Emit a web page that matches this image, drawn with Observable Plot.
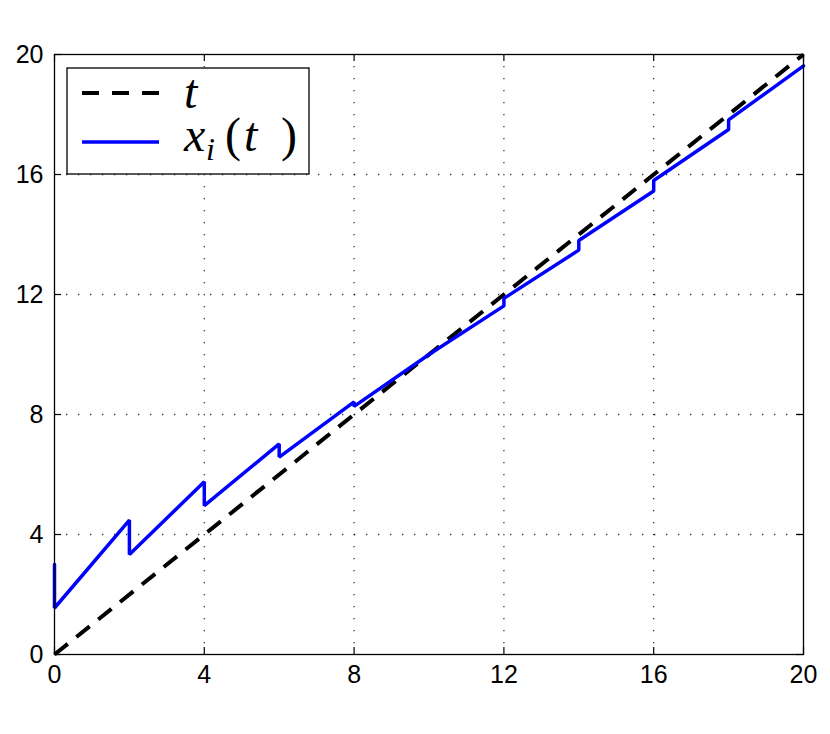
<!DOCTYPE html>
<html>
<head>
<meta charset="utf-8">
<script src="https://cdn.jsdelivr.net/npm/d3@7"></script>
<script src="https://cdn.jsdelivr.net/npm/@observablehq/plot@0.6"></script>
<style>
  html, body { margin: 0; padding: 0; background: white; }
  #wrap { position: relative; width: 830px; height: 734px; }
  #legend { position: absolute; left: 0; top: 0; pointer-events: none; }
</style>
</head>
<body>
<div id="wrap"></div>
<script>
// Reference line t
const refT = [0, 20];
// x_i(t) trajectory (times and values, jumps as repeated times)
const blueT = [0, 0, 2, 2, 4, 4, 6, 6, 8, 8, 10, 12, 12, 14, 14, 16, 16, 18, 18, 20];
const blueX = [3.0, 1.55, 4.48, 3.33, 5.76, 4.96, 7.02, 6.58, 8.42, 8.27, 10.0, 11.62, 11.87, 13.48, 13.8, 15.45, 15.8, 17.5, 17.82, 19.62];
// axis ticks
const tickVals = [0, 4, 8, 12, 16, 20];
const gridVals = [4, 8, 12, 16];
const legendLabels = ["t", "x_i(t)"];

const refData = refT.map(t => ({t, v: t}));
const blueData = blueT.map((t, i) => ({t, v: blueX[i]}));

const chart = Plot.plot({
  width: 830,
  height: 734,
  marginLeft: 54,
  marginRight: 27,
  marginTop: 54,
  marginBottom: 80,
  x: {domain: [0, 20], label: null},
  y: {domain: [0, 20], label: null},
  style: {fontFamily: "'Liberation Sans', Arial, sans-serif", fontSize: "25px", color: "black", background: "white"},
  marks: [
    Plot.gridX(gridVals, {stroke: "#000", strokeOpacity: 0.8, strokeWidth: 1.3, strokeDasharray: "1.3,10.7"}),
    Plot.gridY(gridVals, {stroke: "#000", strokeOpacity: 0.8, strokeWidth: 1.3, strokeDasharray: "1.3,10.7"}),
    Plot.line(refData, {x: "t", y: "v", stroke: "black", strokeWidth: 4, strokeDasharray: "17,11", strokeLinecap: "butt"}),
    Plot.line(blueData, {x: "t", y: "v", stroke: "#0000ff", strokeWidth: 3.5, strokeLinejoin: "miter"}),
    Plot.tickX(tickVals, {x: d => d, stroke: "black", strokeWidth: 1.2, insetTop: 593}),
    Plot.tickX(tickVals, {x: d => d, stroke: "black", strokeWidth: 1.2, insetBottom: 593}),
    Plot.tickY(tickVals, {y: d => d, stroke: "black", strokeWidth: 1.2, insetRight: 742}),
    Plot.tickY(tickVals, {y: d => d, stroke: "black", strokeWidth: 1.2, insetLeft: 742}),
    Plot.frame({stroke: "black", strokeWidth: 1.3}),
    Plot.axisX(tickVals, {tickSize: 0, tickPadding: 11, fontSize: 25}),
    Plot.axisY(tickVals, {tickSize: 0, tickPadding: 11, fontSize: 25})
  ]
});
const wrap = document.getElementById("wrap");
wrap.appendChild(chart);

// Legend overlay
const ns = "http://www.w3.org/2000/svg";
const lg = document.createElementNS(ns, "svg");
lg.setAttribute("id", "legend");
lg.setAttribute("width", 830);
lg.setAttribute("height", 734);
lg.innerHTML = `
  <rect x="67" y="68" width="242" height="106" fill="white" stroke="black" stroke-width="1.3"/>
  <line x1="82" x2="159" y1="93" y2="93" stroke="black" stroke-width="4" stroke-dasharray="17,13"/>
  <line x1="82" x2="159" y1="142" y2="142" stroke="#0000ff" stroke-width="3.5"/>
  <text x="184" y="108" font-family="'Liberation Serif', 'DejaVu Serif', serif" font-style="italic" font-size="48" fill="black">${legendLabels[0]}</text>
  <text y="151" font-family="'Liberation Serif', 'DejaVu Serif', serif" font-size="48" fill="black">
    <tspan x="184" font-style="italic">x</tspan><tspan x="206" dy="9" font-size="32" font-style="italic">i</tspan><tspan x="225" dy="-9">(</tspan><tspan x="244" font-style="italic">t</tspan><tspan x="281">)</tspan>
  </text>`;
wrap.appendChild(lg);
</script>
</body>
</html>
